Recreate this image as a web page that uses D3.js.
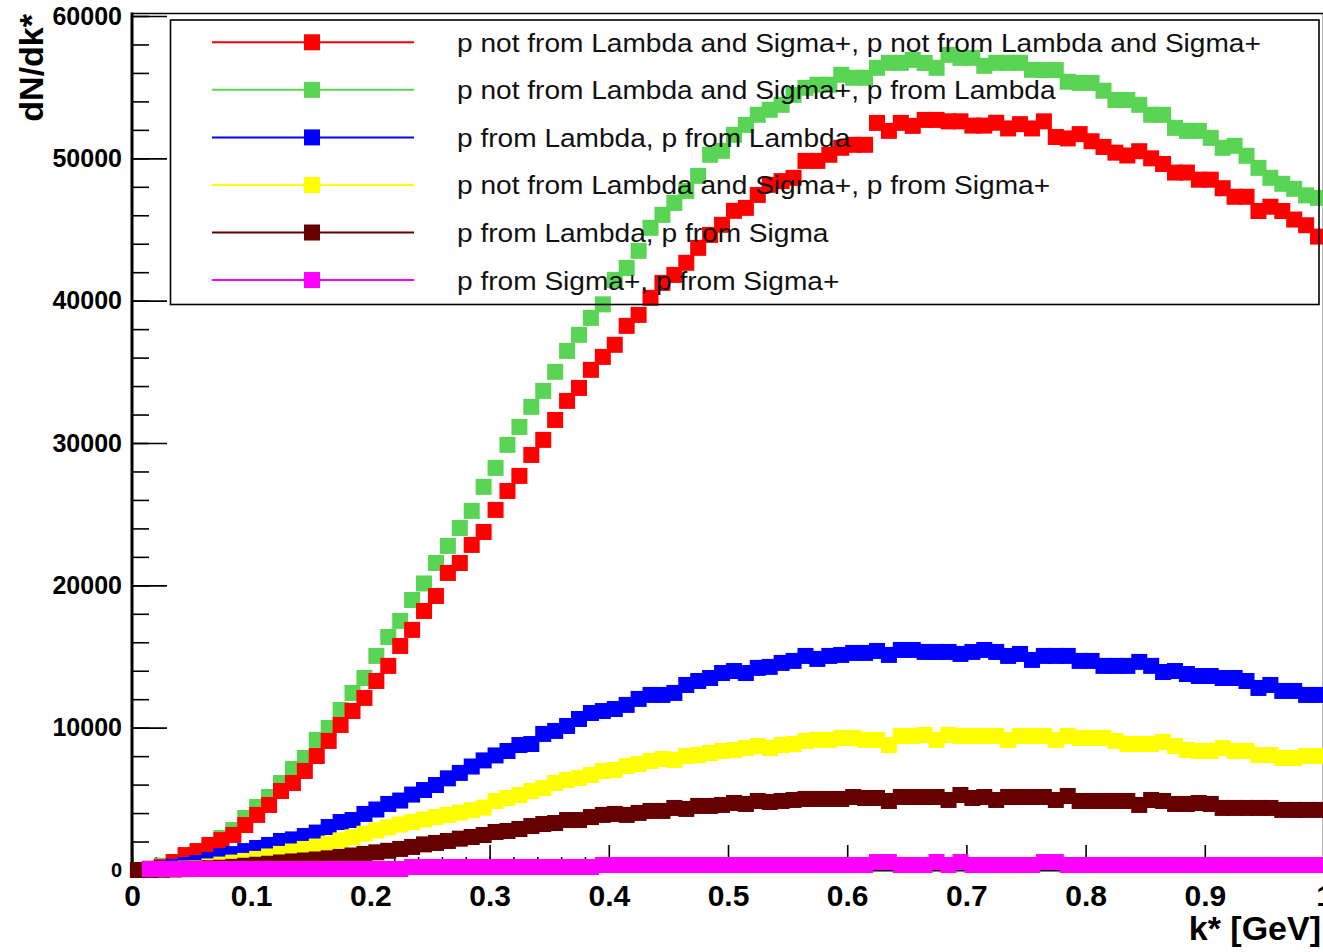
<!DOCTYPE html>
<html><head><meta charset="utf-8">
<script src="https://cdn.jsdelivr.net/npm/d3@7"></script>
<style>html,body{margin:0;padding:0;background:#fff;} svg{display:block;font-family:"Liberation Sans",Arial,Helvetica,sans-serif;}</style>
</head><body><svg id="chart" width="1323" height="952"></svg>
<script>
// bin centres of k* [GeV]
const kBins = [0.005,0.015,0.025,0.035,0.045,0.055,0.065,0.075,0.085,0.095,
0.105,0.115,0.125,0.135,0.145,0.155,0.165,0.175,0.185,0.195,
0.205,0.215,0.225,0.235,0.245,0.255,0.265,0.275,0.285,0.295,
0.305,0.315,0.325,0.335,0.345,0.355,0.365,0.375,0.385,0.395,
0.405,0.415,0.425,0.435,0.445,0.455,0.465,0.475,0.485,0.495,
0.505,0.515,0.525,0.535,0.545,0.555,0.565,0.575,0.585,0.595,
0.605,0.615,0.625,0.635,0.645,0.655,0.665,0.675,0.685,0.695,
0.705,0.715,0.725,0.735,0.745,0.755,0.765,0.775,0.785,0.795,
0.805,0.815,0.825,0.835,0.845,0.855,0.865,0.875,0.885,0.895,
0.905,0.915,0.925,0.935,0.945,0.955,0.965,0.975,0.985,0.995];

const notNot = [0,80,200,560,1050,1330,1760,2100,2460,3160,
3870,4570,5550,6110,6960,8010,9070,10190,11170,12090,
13280,14340,15740,16870,18200,19250,20870,21570,22840,23750,
25300,26630,27690,29160,30220,31620,32960,33870,35140,36050,
36900,38230,39000,40200,41250,41810,42660,43710,44620,45330,
46310,46520,47430,48140,48400,48630,49820,49820,50250,50740,
50950,50950,52490,51930,52490,52280,52700,52700,52600,52600,
52300,52300,52500,52100,52400,52100,52600,51500,51400,51700,
51200,50800,50400,50200,50500,50000,49600,49000,49000,48500,
48500,47900,47300,47300,46300,46600,46300,45700,45300,44500];

const notLambda = [0,100,300,560,980,1260,1690,2250,2810,3650,
4430,5130,6110,7100,7870,9140,9980,11240,12440,13490,
15040,16370,17500,18970,20130,21570,22770,24030,25230,26920,
28250,29870,31130,32540,33660,35000,36470,37600,38790,39740,
41460,42300,43500,45120,46030,46870,47710,48770,50250,50530,
51650,52350,53060,53410,53760,54460,54950,55170,55170,55870,
55660,55660,56360,56710,56710,56920,56700,56360,57270,57060,
57060,56500,56710,56710,56710,56220,56200,56200,55380,55300,
55300,54750,54100,54100,53760,53060,53060,52140,51930,51930,
51440,50740,50880,50180,49330,48630,48210,47860,47400,47220];

const lambdaLambda = [0,30,100,220,350,490,700,980,1120,1330,
1550,1760,2040,2150,2390,2630,3020,3370,3510,3940,
4250,4640,4880,5300,5620,5970,6440,6820,7270,7700,
8050,8360,8780,8850,9560,9770,10120,10610,11030,11170,
11310,11600,12020,12300,12300,12440,13000,13280,13490,13840,
13980,13840,14200,14270,14550,14690,15040,14830,15040,15110,
15250,15250,15390,15110,15460,15460,15320,15320,15320,15180,
15320,15460,15320,15040,15180,14760,15040,15040,15040,14690,
14690,14340,14340,14340,14620,14340,13910,13980,13770,13630,
13630,13490,13490,13280,12790,13000,12580,12580,12300,12300];

const notSigma = [0,10,30,60,100,140,250,380,520,640,
780,950,1130,1300,1480,1650,1850,2080,2300,2550,
2780,3000,3200,3370,3550,3720,3870,4030,4200,4380,
4850,5060,5270,5550,5760,6110,6320,6470,6680,6960,
7030,7310,7450,7660,7800,7730,8010,8080,8220,8360,
8430,8570,8710,8570,8780,8850,9070,9140,9140,9280,
9280,9140,9140,8780,9420,9420,9490,9140,9490,9420,
9420,9420,9420,9140,9420,9420,9420,9140,9420,9280,
9280,9280,9070,8850,8850,8850,9000,8710,8430,8360,
8360,8570,8360,8360,8080,8080,7870,7870,8010,8010];

const lambdaSigma = [0,10,20,40,60,100,120,160,220,300,
370,440,530,600,670,740,820,920,1020,1130,
1240,1350,1480,1620,1800,1900,2040,2200,2320,2460,
2670,2740,2880,3090,3230,3300,3510,3510,3720,3870,
3940,3870,4010,4150,4150,4360,4290,4500,4500,4570,
4710,4640,4850,4780,4850,4920,4990,4990,4990,4990,
5130,5060,5060,4850,5130,5130,5130,5130,4920,5270,
5060,5130,4920,5130,5130,5130,5130,4920,5200,4850,
4850,4850,4850,4850,4570,4920,4850,4640,4640,4710,
4640,4360,4360,4360,4360,4360,4220,4220,4220,4220];

const sigmaSigma = [null,70,70,70,70,70,70,70,70,70,
70,70,70,70,70,70,70,70,70,70,
70,70,70,210,210,210,210,210,210,210,
210,210,210,210,210,210,210,210,210,350,
350,350,350,350,350,350,350,350,350,350,
350,350,350,350,350,350,350,350,350,350,
350,350,560,560,350,350,350,560,350,560,
350,350,350,350,350,350,560,560,350,350,
350,350,350,350,350,350,350,350,350,350,
350,350,350,350,350,350,350,350,350,350];

const legendLabels = [
  "p not from Lambda and Sigma+, p not from Lambda and Sigma+",
  "p not from Lambda and Sigma+, p from Lambda",
  "p from Lambda, p from Lambda",
  "p not from Lambda and Sigma+, p from Sigma+",
  "p from Lambda, p from Sigma",
  "p from Sigma+, p from Sigma+"
];
const seriesValues = [notNot, notLambda, lambdaLambda, notSigma, lambdaSigma, sigmaSigma];
const seriesColors = ["#ff0000", "#59d454", "#0000ff", "#ffff00", "#660000", "#ff00ff"];
const drawOrder = [1, 0, 2, 3, 4, 5];

const xTicks = [0, 0.1, 0.2, 0.3, 0.4, 0.5, 0.6, 0.7, 0.8, 0.9, 1];
const yTicks = [0, 10000, 20000, 30000, 40000, 50000, 60000];
const xTitle = "k* [GeV]";
const yTitle = "dN/dk*";

// ---- drawing ----
const svg = d3.select("#chart");
svg.append("rect").attr("width", 1323).attr("height", 952).attr("fill", "#fff");

const x = d3.scaleLinear().domain([0, 1]).range([132, 1324]);
const y = d3.scaleLinear().domain([0, 60000]).range([870, 16]);

// frame top / right
svg.append("line").attr("x1", 132).attr("x2", 1324).attr("y1", 13.5).attr("y2", 13.5)
  .attr("stroke", "#000").attr("stroke-width", 1.6);
svg.append("line").attr("x1", 1323.5).attr("x2", 1323.5).attr("y1", 13.5).attr("y2", 870)
  .attr("stroke", "#000").attr("stroke-width", 1.6);

// x axis
const minorX = d3.range(0, 1.0001, 0.02);
const gxMinor = svg.append("g").attr("transform", "translate(0,870)")
  .call(d3.axisBottom(x).tickValues(minorX).tickSize(-13).tickFormat(""));
gxMinor.select(".domain").remove();
const gx = svg.append("g").attr("transform", "translate(0,870)")
  .call(d3.axisBottom(x).tickValues(xTicks).tickSize(-25).tickSizeOuter(0).tickPadding(15).tickFormat(d => String(d)));
gx.select(".domain").attr("stroke-width", 2);
svg.selectAll("g.tick line").attr("stroke-width", 1.6);
gx.selectAll("text").attr("font-size", 30).attr("font-weight", "bold").attr("fill", "#000");

// y axis
const minorY = d3.range(0, 60001, 2000);
const gyMinor = svg.append("g").attr("transform", "translate(132,0)")
  .call(d3.axisLeft(y).tickValues(minorY).tickSize(-17).tickFormat(""));
gyMinor.select(".domain").remove();
const gy = svg.append("g").attr("transform", "translate(132,0)")
  .call(d3.axisLeft(y).tickValues(yTicks).tickSize(-35).tickSizeOuter(0).tickPadding(10).tickFormat(d => String(d)));
gy.select(".domain").remove();
svg.append("line").attr("x1", 132).attr("x2", 132).attr("y1", 12.5).attr("y2", 871)
  .attr("stroke", "#000").attr("stroke-width", 3);
svg.selectAll("g.tick line").attr("stroke-width", 1.6);
gy.selectAll("text").attr("font-size", d => d === 0 ? 20 : 25).attr("font-weight", "bold").attr("fill", "#000");

// titles
svg.append("text").attr("transform", "translate(43,14) rotate(-90)")
  .attr("text-anchor", "end").attr("font-size", 34).attr("font-weight", "bold").text(yTitle);
svg.append("text").attr("x", 1321).attr("y", 940).attr("text-anchor", "end")
  .attr("font-size", 34).attr("font-weight", "bold").text(xTitle);

// markers
const ms = 16;
drawOrder.forEach(si => {
  const pts = kBins.map((k, i) => ({k, v: seriesValues[si][i]})).filter(d => d.v !== null);
  svg.append("g").selectAll("rect").data(pts).join("rect")
    .attr("x", d => x(d.k) - ms / 2).attr("y", d => y(d.v) - ms / 2)
    .attr("width", ms).attr("height", ms)
    .attr("fill", seriesColors[si]);
});

// legend
const lg = svg.append("g");
lg.append("rect").attr("x", 170.5).attr("y", 20).attr("width", 1148.5).attr("height", 284.5)
  .attr("fill", "none").attr("stroke", "#000").attr("stroke-width", 1.6);
const rowY = i => 42.3 + i * 47.55;
legendLabels.forEach((lab, i) => {
  lg.append("line").attr("x1", 212).attr("x2", 414).attr("y1", rowY(i)).attr("y2", rowY(i))
    .attr("stroke", seriesColors[i]).attr("stroke-width", 2);
  lg.append("rect").attr("x", 312 - ms / 2).attr("y", rowY(i) - ms / 2).attr("width", ms).attr("height", ms)
    .attr("fill", seriesColors[i]);
  const t = lg.append("text").attr("x", 457).attr("y", rowY(i) + 9.5).attr("font-size", 26)
    .attr("fill", "#111").text(lab);
  const w = t.node().getComputedTextLength();
  t.attr("textLength", w * 1.08).attr("lengthAdjust", "spacingAndGlyphs");
});
</script>
</body></html>
